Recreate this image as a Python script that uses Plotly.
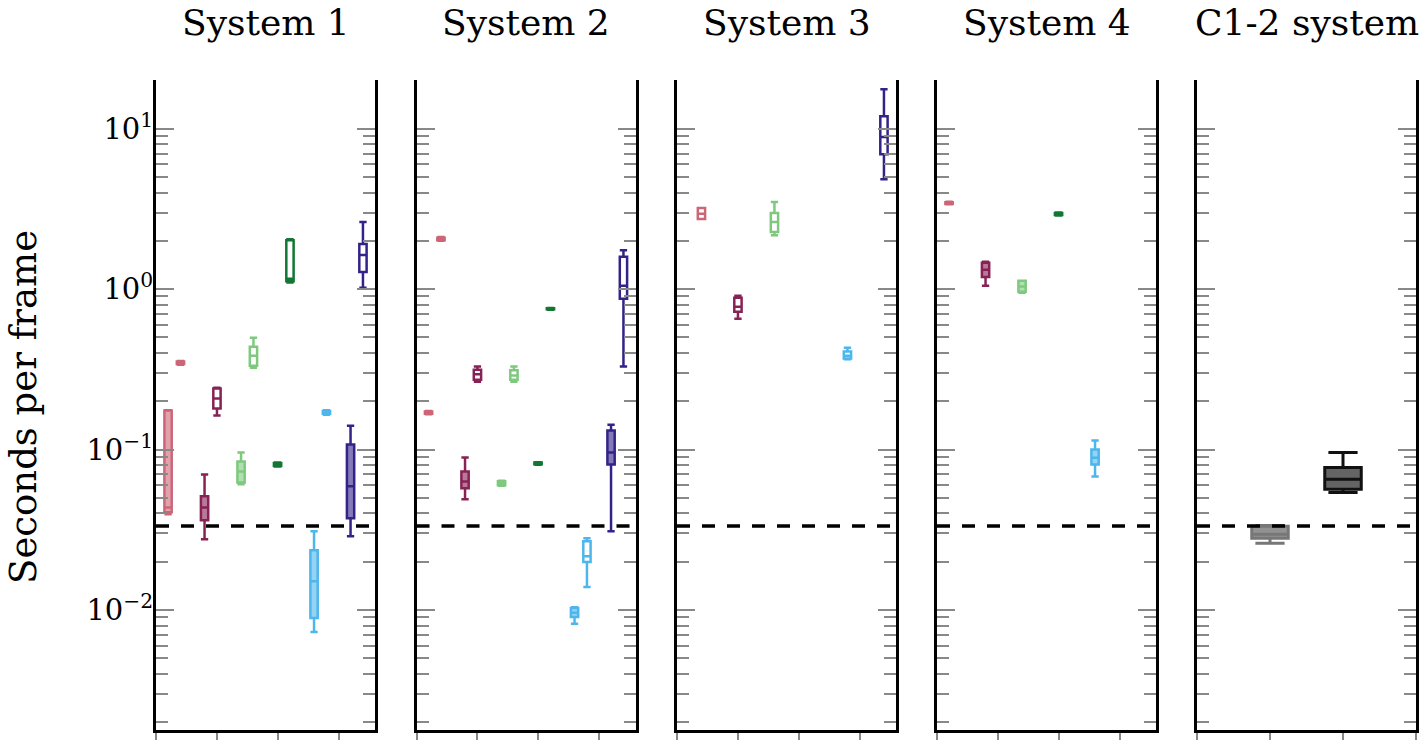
import plotly.graph_objects as go
from plotly.subplots import make_subplots

# ---------------- data ----------------
PANEL_TITLES = ["System 1", "System 2", "System 3", "System 4", "C1-2 system"]
METHOD_COLORS = ["#CC6677", "#882255", "#7FC97F", "#117733", "#4DB6EC", "#332288"]
REF_FPS = 1 / 30  # real-time threshold (dashed line)

# Variant A (filled boxes) per system (rows) x method (cols): lower whisker, Q1, median, Q3, upper whisker
A_LO = [[0.0395, 0.0276, 0.0607, 0.0785, 0.0073, 0.0288],
        [0.166, 0.049, 0.0595, 0.0805, 0.0082, 0.031],
        [None, None, None, None, None, None],
        [3.38, 1.05, 0.95, 2.88, 0.068, None]]
A_Q1 = [[0.0406, 0.0362, 0.0624, 0.079, 0.00891, 0.0373],
        [0.167, 0.0573, 0.0600, 0.081, 0.00904, 0.0808],
        [None, None, None, None, None, None],
        [3.40, 1.19, 0.962, 2.90, 0.0808, None]]
A_MED = [[0.0436, 0.0436, 0.073, 0.0808, 0.0151, 0.059],
         [0.170, 0.0633, 0.0615, 0.082, 0.0096, 0.096],
         [None, None, None, None, None, None],
         [3.44, 1.32, 1.04, 2.94, 0.089, None]]
A_Q3 = [[0.175, 0.0511, 0.0843, 0.0825, 0.0236, 0.1076],
        [0.173, 0.073, 0.0635, 0.083, 0.01028, 0.1315],
        [None, None, None, None, None, None],
        [3.48, 1.46, 1.126, 2.98, 0.100, None]]
A_HI = [[0.176, 0.070, 0.096, 0.083, 0.031, 0.141],
        [0.174, 0.0893, 0.064, 0.0835, 0.0104, 0.143],
        [None, None, None, None, None, None],
        [3.50, 1.48, 1.13, 3.00, 0.114, None]]

# Variant B (outline boxes)
B_LO = [[0.338, 0.163, 0.324, 1.10, 0.165, 1.02],
        [2.00, 0.265, 0.265, 0.745, 0.0139, 0.329],
        [2.74, 0.654, 2.17, None, 0.365, 4.85],
        [None, None, None, None, None, None]]
B_Q1 = [[0.341, 0.180, 0.333, 1.12, 0.167, 1.28],
        [2.02, 0.272, 0.272, 0.748, 0.0199, 0.87],
        [2.74, 0.722, 2.27, None, 0.369, 6.94],
        [None, None, None, None, None, None]]
B_MED = [[0.348, 0.208, 0.385, 1.16, 0.170, 1.63],
         [2.05, 0.295, 0.290, 0.754, 0.0216, 1.05],
         [2.95, 0.776, 2.62, None, 0.385, 8.87],
         [None, None, None, None, None, None]]
B_Q3 = [[0.354, 0.240, 0.438, 2.02, 0.174, 1.91],
        [2.09, 0.315, 0.312, 0.760, 0.0268, 1.59],
        [3.20, 0.883, 2.98, None, 0.408, 11.95],
        [None, None, None, None, None, None]]
B_HI = [[0.357, 0.243, 0.498, 2.05, 0.176, 2.62],
        [2.11, 0.330, 0.330, 0.763, 0.028, 1.75],
        [3.20, 0.908, 3.49, None, 0.431, 17.6],
        [None, None, None, None, None, None]]

# C1-2 system: two configurations
C12_COLORS = ["#777777", "#111111"]
C12_FILLS = ["rgba(140,140,140,0.95)", "rgba(100,100,100,1)"]
C12_LO = [0.0261, 0.054]
C12_Q1 = [0.028, 0.0565]
C12_MED = [0.0297, 0.0652]
C12_Q3 = [0.0333, 0.0774]
C12_HI = [0.0336, 0.096]

Y_TICKS = [0.01, 0.1, 1, 10]
Y_TICKTEXT = ["10<sup>\u22122</sup>", "10<sup>\u22121</sup>", "10<sup>0</sup>", "10<sup>1</sup>"]

# ---------------- figure ----------------
W, H = 1424, 740
fig = make_subplots(rows=1, cols=5)


def rgba(hexc, a):
    h = hexc.lstrip("#")
    return "rgba(%d,%d,%d,%.2f)" % (int(h[0:2], 16), int(h[2:4], 16), int(h[4:6], 16), a)


def add_box(col, x, lo, q1, med, q3, hi, color, fill, width, ww, lw):
    fig.add_trace(go.Box(x=[x], lowerfence=[lo], q1=[q1], median=[med], q3=[q3],
                         upperfence=[hi], width=width, whiskerwidth=ww,
                         line=dict(color=color, width=lw), fillcolor=fill,
                         boxpoints=False, showlegend=False, hoverinfo="skip"),
                  row=1, col=col)


for s in range(4):
    for m in range(6):
        c = METHOD_COLORS[m]
        center = m + 0.5
        if A_Q1[s][m] is not None:
            add_box(s + 1, center - 0.17, A_LO[s][m], A_Q1[s][m], A_MED[s][m], A_Q3[s][m],
                    A_HI[s][m], c, rgba(c, 0.6), 0.2, 1.0, 2.5)
        if B_Q1[s][m] is not None:
            add_box(s + 1, center + 0.17, B_LO[s][m], B_Q1[s][m], B_MED[s][m], B_Q3[s][m],
                    B_HI[s][m], c, "white", 0.2, 1.0, 2.5)

for k in range(2):
    add_box(5, k + 1, C12_LO[k], C12_Q1[k], C12_MED[k], C12_Q3[k], C12_HI[k],
            C12_COLORS[k], C12_FILLS[k], 0.5, 0.8, 3)

left_px = [156, 416.5, 677, 937, 1197]
panel_w = 219
ytop, ybot = 80, 731.5

for i in range(5):
    xa = "xaxis" if i == 0 else "xaxis%d" % (i + 1)
    ya = "yaxis" if i == 0 else "yaxis%d" % (i + 1)
    if i < 4:
        xr = [0, 6]
        xt = [0, 5 / 3, 10 / 3, 5]
    else:
        xr = [0, 3]
        xt = [0, 1, 2, 3]
    fig.layout[xa].update(domain=[left_px[i] / W, (left_px[i] + panel_w) / W],
                          range=xr, tickvals=xt, showticklabels=False,
                          ticks="outside", ticklen=10, tickwidth=2, tickcolor="#888888",
                          showline=True, linecolor="black", linewidth=3, mirror=False,
                          showgrid=False, zeroline=False, fixedrange=True)
    yopts = dict(domain=[(H - ybot) / H, (H - ytop) / H], type="log",
                 range=[-2.745, 1.305], tickvals=Y_TICKS,
                 showticklabels=(i == 0),
                 ticks="inside", ticklen=18, tickwidth=1.5, tickcolor="#888888",
                 minor=dict(ticks="inside", ticklen=12, tickwidth=2,
                            tickcolor="#888888", dtick="D1", showgrid=False),
                 showline=True, linecolor="black", linewidth=3, mirror="ticks",
                 showgrid=False, zeroline=False, ticklabelstandoff=-6,
                 tickfont=dict(family="DejaVu Serif", size=29, color="black"))
    if i == 0:
        yopts["ticktext"] = Y_TICKTEXT
    fig.layout[ya].update(**yopts)
    fig.add_hline(y=REF_FPS, line=dict(color="black", width=3.5, dash="13px,12px"),
                  row=1, col=i + 1)
    fig.add_annotation(text=PANEL_TITLES[i], xref="paper", yref="paper",
                       x=(left_px[i] + panel_w / 2) / W, y=1.0, yanchor="top",
                       xanchor="center", showarrow=False,
                       font=dict(family="DejaVu Serif", size=36, color="black"))

fig.add_annotation(text="Seconds per frame", xref="paper", yref="paper",
                   x=24 / W, y=(H - 408) / H, textangle=-90, showarrow=False,
                   xanchor="center", yanchor="middle",
                   font=dict(family="DejaVu Serif", size=37, color="black"))

fig.update_layout(width=W, height=H, margin=dict(l=0, r=0, t=0, b=0),
                  paper_bgcolor="white", plot_bgcolor="white", boxmode="overlay",
                  showlegend=False)

fig.write_html("out.html", config={"displayModeBar": False},
               post_script="document.body.style.margin='0px';document.body.style.overflow='hidden';")
